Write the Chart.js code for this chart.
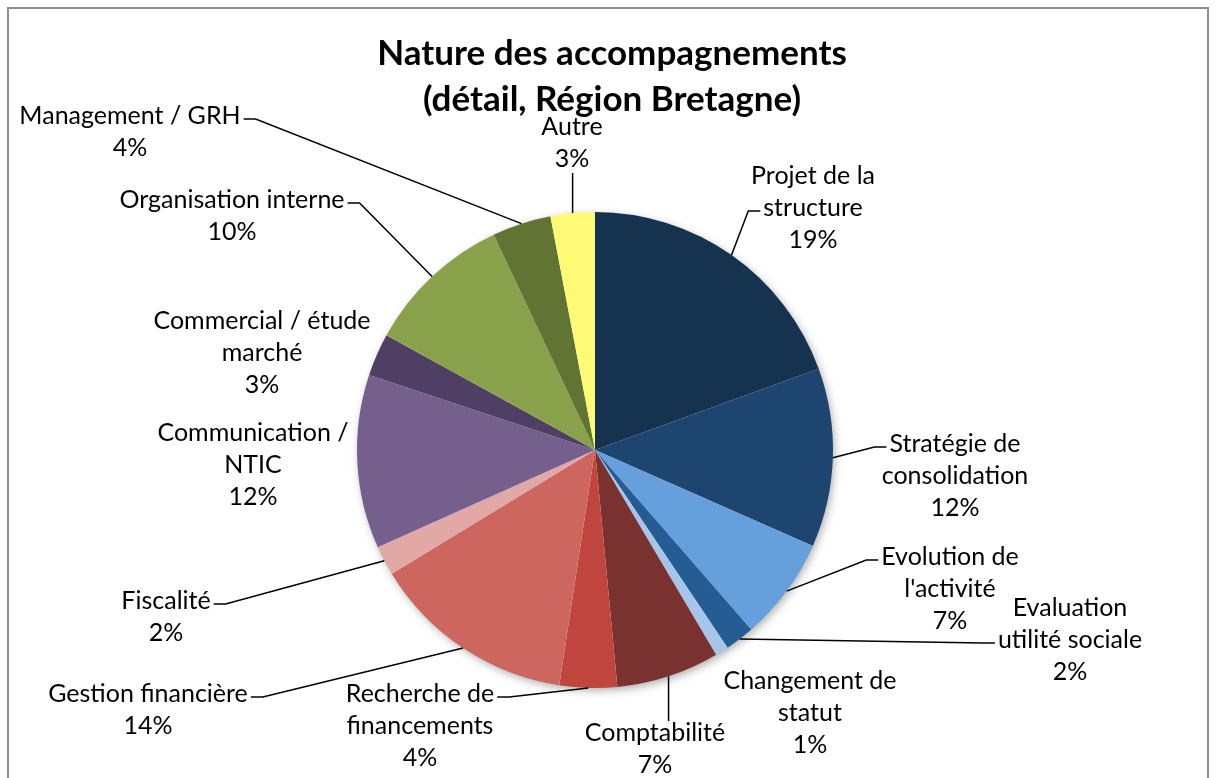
<!DOCTYPE html>
<html>
<head>
<meta charset="utf-8">
<script src="https://cdn.jsdelivr.net/npm/chart.js@4"></script>
<style>
  html, body { margin: 0; padding: 0; background: #fff; }
  #wrap { width: 1216px; height: 778px; }
</style>
</head>
<body>
<div id="wrap"><canvas id="natureChart"></canvas></div>
<script>
// Chart data
var titleLines = ['Nature des accompagnements', '(détail, Région Bretagne)'];
var categories = [
    ['Projet de la', 'structure'],
    ['Stratégie de', 'consolidation'],
    ['Evolution de', "l'activité"],
    ['Evaluation', 'utilité sociale'],
    ['Changement de', 'statut'],
    ['Comptabilité'],
    ['Recherche de', 'financements'],
    ['Gestion financière'],
    ['Fiscalité'],
    ['Communication /', 'NTIC'],
    ['Commercial / étude', 'marché'],
    ['Organisation interne'],
    ['Management / GRH'],
    ['Autre']
];
var shares = [19.45, 12.15, 7.0, 2.0, 0.9, 7.0, 3.9, 13.9, 2.0, 11.8, 2.9, 10.0, 4.0, 3.0];
var sliceColors = [
    '#15324f', '#1e4570', '#66a0dc', '#265c94', '#a5c5eb', '#7a3230', '#bf453e',
    '#cc665f', '#e2a8a5', '#755f8d', '#503f65', '#8aa14b', '#617434', '#fefa75'
];

// Label placement (offset of each text block from pie centre, px) and leader style
var labelOffsets = [
    [218, -242], [360, 26], [355, 139], [475, 190], [215, 263], [60, 299], [-175, 276],
    [-447, 260], [-429, 167], [-342, 15], [-333, -97], [-363, -234], [-465, -318], [-23, -307]
];
var leaderModes = ['h1', 'h0', 'h0', 'h1', '', 'vt', 'h0', 'h0', 'h0', '', '', 'h0', 'h0', 'vb'];

var labelFont = '25px Lato';
var lineH = 32;

// background, frame and title
var framePlugin = {
    id: 'frame',
    beforeDraw: function (chart) {
        var ctx = chart.ctx;
        ctx.save();
        ctx.fillStyle = '#ffffff';
        ctx.fillRect(0, 0, chart.width, chart.height);
        ctx.strokeStyle = '#8e8e8e';
        ctx.lineWidth = 2;
        ctx.strokeRect(8, 8, chart.width - 16, chart.height + 40);
        ctx.fillStyle = '#000';
        ctx.font = 'bold 35px Lato';
        ctx.textAlign = 'center';
        ctx.textBaseline = 'middle';
        titleLines.forEach(function (t, i) {
            ctx.fillText(t, 612, 54 + i * 46);
        });
        ctx.restore();
    },
    beforeDatasetsDraw: function (chart) {
        // soft shadow under the pie
        var arc = chart.getDatasetMeta(0).data[0];
        var ctx = chart.ctx;
        ctx.save();
        ctx.shadowColor = 'rgba(0,0,0,0.35)';
        ctx.shadowBlur = 10;
        ctx.shadowOffsetX = 2;
        ctx.shadowOffsetY = 3;
        ctx.fillStyle = '#ffffff';
        ctx.beginPath();
        ctx.arc(arc.x, arc.y, arc.outerRadius - 1, 0, Math.PI * 2);
        ctx.fill();
        ctx.restore();
    }
};

// outside labels with leader lines
var labelPlugin = {
    id: 'outsideLabels',
    afterDatasetsDraw: function (chart) {
        var ctx = chart.ctx;
        var meta = chart.getDatasetMeta(0);
        var total = shares.reduce(function (a, b) { return a + b; }, 0);
        ctx.save();
        ctx.font = labelFont;
        ctx.fillStyle = '#000';
        ctx.strokeStyle = '#000';
        ctx.lineWidth = 1.5;
        ctx.textAlign = 'center';
        ctx.textBaseline = 'middle';
        meta.data.forEach(function (arc, i) {
            var lines = categories[i].concat([Math.round(shares[i] / total * 100) + '%']);
            var cx = arc.x + labelOffsets[i][0];
            var cy = arc.y + labelOffsets[i][1];
            var top = cy - lines.length * lineH / 2;
            lines.forEach(function (t, k) {
                ctx.fillText(t, cx, top + k * lineH + lineH / 2);
            });

            var mode = leaderModes[i];
            if (!mode) return;
            var mid = (arc.startAngle + arc.endAngle) / 2;
            var sx = arc.x + Math.cos(mid) * arc.outerRadius;
            var sy = arc.y + Math.sin(mid) * arc.outerRadius;
            ctx.beginPath();
            ctx.moveTo(sx, sy);
            if (mode === 'vt') {
                ctx.lineTo(sx, top + 4);
            } else if (mode === 'vb') {
                ctx.lineTo(sx, top + lines.length * lineH - 2);
            } else {
                var k = parseInt(mode.charAt(1), 10);
                var w = ctx.measureText(lines[k]).width;
                var hy = top + k * lineH + lineH / 2 + 3;
                var hx, stub;
                if (cx > sx) {
                    hx = cx - w / 2 - 3;
                    stub = hx - 12;
                } else {
                    hx = cx + w / 2 + 3;
                    stub = hx + 12;
                }
                ctx.lineTo(stub, hy);
                ctx.lineTo(hx, hy);
            }
            ctx.stroke();
        });
        ctx.restore();
    }
};

var ctxNature = document.getElementById('natureChart').getContext('2d');
var natureChart = new Chart(ctxNature, {
    type: 'pie',
    data: {
        labels: categories,
        datasets: [{
            data: shares,
            backgroundColor: sliceColors,
            borderWidth: 0
        }]
    },
    options: {
        responsive: true,
        maintainAspectRatio: false,
        animation: false,
        layout: {
            padding: { top: 212, bottom: 90, left: 357, right: 383 }
        },
        plugins: {
            legend: { display: false },
            tooltip: { enabled: false }
        }
    },
    plugins: [framePlugin, labelPlugin]
});
</script>
</body>
</html>
